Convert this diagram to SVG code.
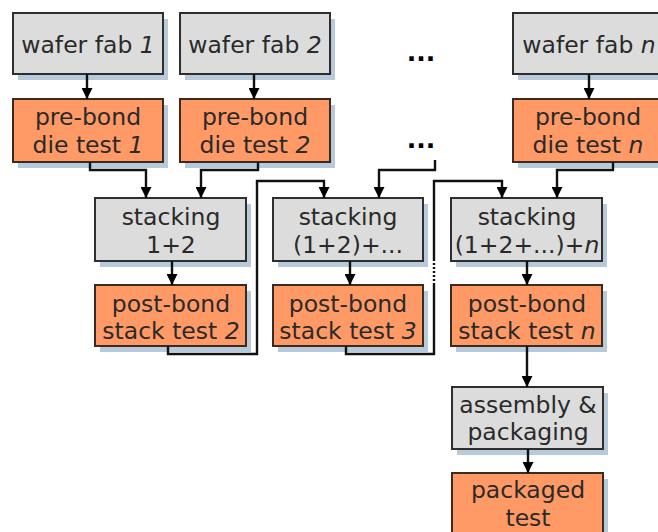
<svg xmlns="http://www.w3.org/2000/svg" width="658" height="532" viewBox="0 0 658 532">
<style>
.sh{fill:#b6cadc}
.g{fill:#dcdcdc;stroke:#2e2e2e;stroke-width:2}
.o{fill:#ff9a66;stroke:#3a2a20;stroke-width:2}
text{font-family:"DejaVu Sans","Liberation Sans",sans-serif;font-size:23.5px;fill:#2a2a2a;text-anchor:middle}
.i{font-style:italic}
.c{fill:none;stroke:#111;stroke-width:2.4}
.dots{font-weight:bold;fill:#000;font-size:25px}
</style>
<defs>
<marker id="a" viewBox="0 0 10 10" markerWidth="11" markerHeight="11" refX="10" refY="5" orient="auto" markerUnits="userSpaceOnUse">
<path d="M0,0 L10,5 L0,10 z" fill="#000"/>
</marker>
</defs>
<rect width="658" height="532" fill="#fff"/>

<g id="wf1"><rect class="sh" x="18" y="19" width="150" height="61"/><rect class="g" x="13" y="13" width="150" height="61"/><text x="88" y="53">wafer fab <tspan class="i">1</tspan></text></g>
<g id="wf2"><rect class="sh" x="185" y="19" width="150" height="61"/><rect class="g" x="180" y="13" width="150" height="61"/><text x="255" y="53">wafer fab <tspan class="i">2</tspan></text></g>
<g id="wfn"><rect class="sh" x="518" y="19" width="150" height="61"/><rect class="g" x="513" y="13" width="150" height="61"/><text x="589" y="53">wafer fab <tspan class="i">n</tspan></text></g>

<g id="pb1"><rect class="sh" x="18" y="105" width="150" height="63"/><rect class="o" x="13" y="99" width="150" height="63"/><text x="88" y="125">pre-bond</text><text x="88" y="153">die test <tspan class="i">1</tspan></text></g>
<g id="pb2"><rect class="sh" x="185" y="105" width="150" height="63"/><rect class="o" x="180" y="99" width="150" height="63"/><text x="255" y="125">pre-bond</text><text x="255" y="153">die test <tspan class="i">2</tspan></text></g>
<g id="pbn"><rect class="sh" x="518" y="105" width="150" height="63"/><rect class="o" x="513" y="99" width="150" height="63"/><text x="588" y="125">pre-bond</text><text x="588" y="153">die test <tspan class="i">n</tspan></text></g>

<g id="dots1"><text class="dots" x="421" y="61">...</text></g>
<g id="dots2"><text class="dots" x="421" y="148">...</text></g>

<g id="st12"><rect class="sh" x="100" y="204" width="151" height="63"/><rect class="g" x="95" y="198" width="151" height="63"/><text x="171" y="225">stacking</text><text x="171" y="253">1+2</text></g>
<g id="st2"><rect class="sh" x="278" y="204" width="150" height="63"/><rect class="g" x="273" y="198" width="150" height="63"/><text x="348" y="225">stacking</text><text x="348" y="253">(1+2)+...</text></g>
<g id="stn"><rect class="sh" x="456" y="204" width="151" height="63"/><rect class="g" x="451" y="198" width="151" height="63"/><text x="527" y="225">stacking</text><text x="527" y="253">(1+2+...)+<tspan class="i">n</tspan></text></g>

<g id="pst2"><rect class="sh" x="100" y="291" width="151" height="61"/><rect class="o" x="95" y="285" width="151" height="61"/><text x="171" y="312">post-bond</text><text x="171" y="339">stack test <tspan class="i">2</tspan></text></g>
<g id="pst3"><rect class="sh" x="278" y="291" width="150" height="61"/><rect class="o" x="273" y="285" width="150" height="61"/><text x="348" y="312">post-bond</text><text x="348" y="339">stack test <tspan class="i">3</tspan></text></g>
<g id="pstn"><rect class="sh" x="456" y="291" width="151" height="61"/><rect class="o" x="451" y="285" width="151" height="61"/><text x="527" y="312">post-bond</text><text x="527" y="339">stack test <tspan class="i">n</tspan></text></g>

<g id="asm"><rect class="sh" x="457" y="393" width="151" height="62"/><rect class="g" x="452" y="387" width="151" height="62"/><text x="528" y="413">assembly &amp;</text><text x="528" y="440">packaging</text></g>
<g id="pkg"><rect class="sh" x="457" y="479" width="151" height="63"/><rect class="o" x="452" y="473" width="151" height="63"/><text x="528" y="498">packaged</text><text x="528" y="526">test</text></g>

<g id="connectors">
<path class="c" d="M87 74 V99" marker-end="url(#a)"/>
<path class="c" d="M254 74 V99" marker-end="url(#a)"/>
<path class="c" d="M589 74 V99" marker-end="url(#a)"/>
<path class="c" d="M90 162 V170 H146 V198" marker-end="url(#a)"/>
<path class="c" d="M258 162 V170 H201 V198" marker-end="url(#a)"/>
<path class="c" d="M172 261 V285" marker-end="url(#a)"/>
<path class="c" d="M168 346 V354 H257 V181 H324 V198" marker-end="url(#a)"/>
<path class="c" d="M435 160 V170 H379 V198" marker-end="url(#a)"/>
<path class="c" d="M350 261 V285" marker-end="url(#a)"/>
<path class="c" d="M346 346 V354 H434 V285"/>
<path class="c" d="M434 285 V259" stroke-dasharray="2 2"/>
<path class="c" d="M434 259 V181 H502 V198" marker-end="url(#a)"/>
<path class="c" d="M613 162 V170 H557 V198" marker-end="url(#a)"/>
<path class="c" d="M527 261 V285" marker-end="url(#a)"/>
<path class="c" d="M527 346 V387" marker-end="url(#a)"/>
<path class="c" d="M528 449 V473" marker-end="url(#a)"/>
</g>
</svg>
